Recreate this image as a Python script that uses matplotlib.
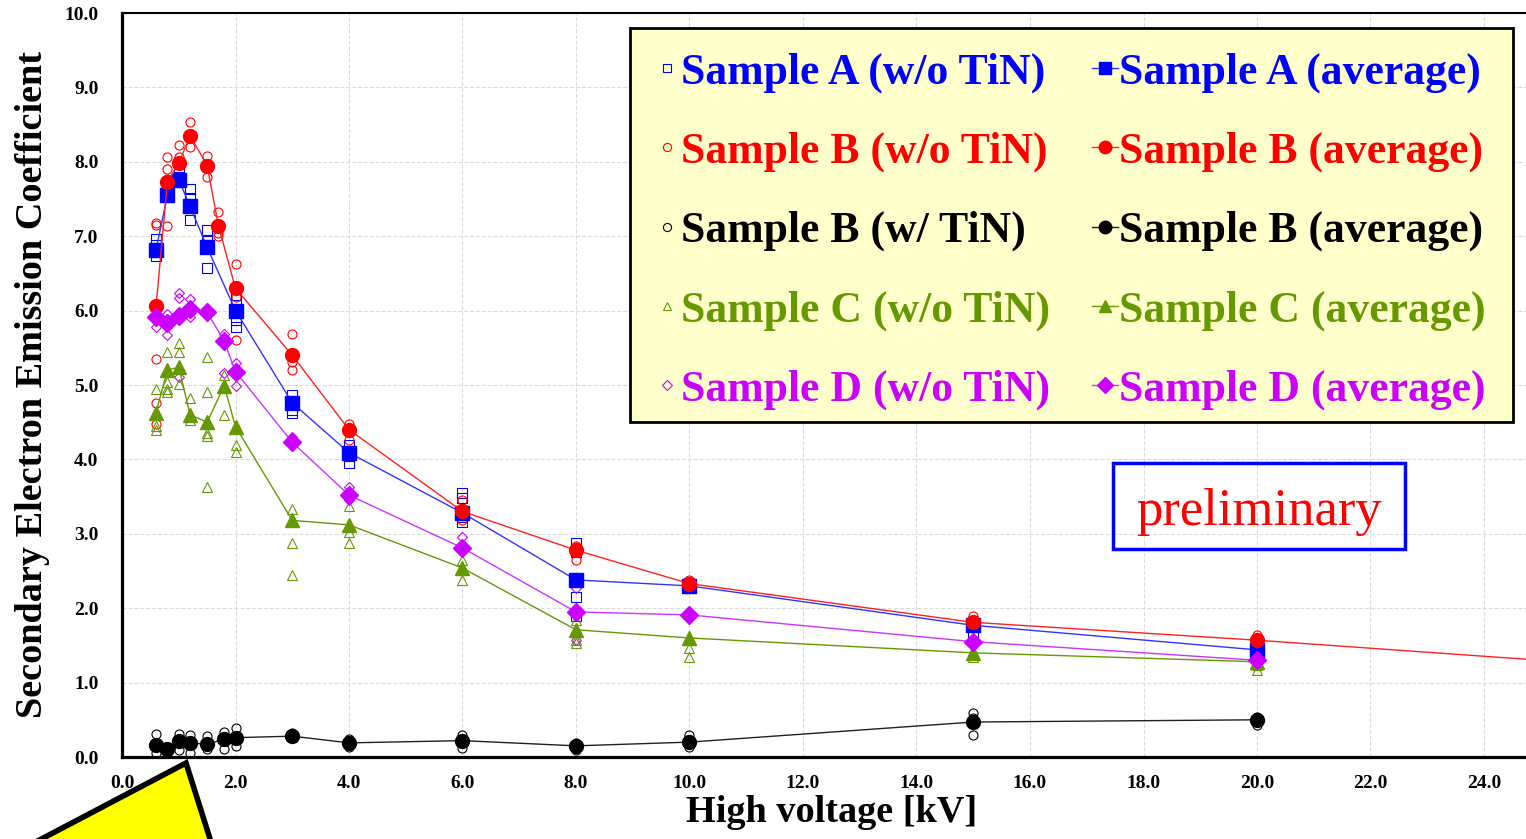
import numpy as np
import matplotlib
matplotlib.use('Agg')
from matplotlib import pyplot as plt
from matplotlib.patches import Polygon, Rectangle

plt.rcParams['font.family'] = ['Liberation Serif', 'DejaVu Serif']
plt.rcParams['font.weight'] = 'bold'

## averages
v_a = [0.6, 0.8, 1.0, 1.2, 1.5, 2.0, 3.0, 4.0, 6.0, 8.0, 10.0, 15.0, 20.0]
avg_a = [6.82, 7.55, 7.76, 7.40, 6.85, 6.00, 4.76, 4.09, 3.28, 2.38, 2.30, 1.77, 1.44]

v_b = [0.6, 0.8, 1.0, 1.2, 1.5, 1.7, 2.0, 3.0, 4.0, 6.0, 8.0, 10.0, 15.0, 20.0, 30.0]
avg_b = [6.06, 7.73, 7.98, 8.35, 7.95, 7.14, 6.30, 5.40, 4.40, 3.30, 2.78, 2.33, 1.81, 1.57, 1.03]

v_bt = [0.6, 0.8, 1.0, 1.2, 1.5, 1.8, 2.0, 3.0, 4.0, 6.0, 8.0, 10.0, 15.0, 20.0]
avg_bt = [0.16, 0.11, 0.22, 0.19, 0.17, 0.24, 0.26, 0.28, 0.19, 0.22, 0.15, 0.20, 0.47, 0.50]

v_c = [0.6, 0.8, 1.0, 1.2, 1.5, 1.8, 2.0, 3.0, 4.0, 6.0, 8.0, 10.0, 15.0, 20.0]
avg_c = [4.63, 5.20, 5.24, 4.60, 4.50, 4.99, 4.44, 3.18, 3.12, 2.54, 1.71, 1.60, 1.40, 1.28]

v_d = [0.6, 0.8, 1.0, 1.2, 1.5, 1.8, 2.0, 3.0, 4.0, 6.0, 8.0, 10.0, 15.0, 20.0]
avg_d = [5.92, 5.84, 5.93, 6.02, 5.98, 5.59, 5.18, 4.23, 3.52, 2.81, 1.95, 1.91, 1.55, 1.30]

## individual measurements {voltage: values}
meas_a = {0.6: [6.96, 6.88, 6.73], 0.8: [7.62, 7.53], 1.0: [7.85, 7.80],
          1.2: [7.64, 7.51, 7.22], 1.5: [7.09, 6.93, 6.57], 2.0: [6.21, 6.07, 5.87, 5.78],
          3.0: [4.87, 4.66, 4.62], 4.0: [4.19, 4.04, 3.95], 6.0: [3.55, 3.48, 3.23, 3.16],
          8.0: [2.87, 2.76, 2.15, 1.89], 10.0: [2.34, 2.27], 15.0: [1.75, 1.68],
          20.0: [1.48, 1.40]}
meas_b = {0.6: [7.18, 7.15, 5.35, 4.76, 4.48], 0.8: [8.06, 7.90, 7.77, 7.14],
          1.0: [8.23, 8.07], 1.2: [8.53, 8.20], 1.5: [8.08, 7.80], 1.7: [7.32, 7.04, 7.00],
          2.0: [6.63, 6.18, 5.61], 3.0: [5.68, 5.31, 5.20], 4.0: [4.48, 4.26],
          6.0: [3.45, 3.33, 3.19], 8.0: [2.83, 2.65], 10.0: [2.38, 2.30],
          15.0: [1.89, 1.80], 20.0: [1.64, 1.52]}
meas_bt = {0.6: [0.31, 0.05], 0.8: [0.14, 0.05], 1.0: [0.31, 0.10], 1.2: [0.30, 0.05],
           1.5: [0.28, 0.11], 1.8: [0.33, 0.11], 2.0: [0.39, 0.15], 3.0: [0.32, 0.25],
           4.0: [0.24, 0.14], 6.0: [0.30, 0.12], 8.0: [0.19, 0.10], 10.0: [0.30, 0.14],
           15.0: [0.59, 0.52, 0.30], 20.0: [0.54, 0.43]}
meas_c = {0.6: [4.95, 4.45, 4.40], 0.8: [5.45, 5.04, 4.95, 4.91], 1.0: [5.56, 5.45, 5.02],
          1.2: [4.82, 4.53], 1.5: [5.38, 4.91, 4.35, 4.31, 3.63], 1.8: [5.13, 4.60],
          2.0: [4.19, 4.10], 3.0: [3.34, 2.88, 2.45], 4.0: [3.37, 3.03, 2.88],
          6.0: [2.65, 2.38], 8.0: [1.84, 1.57, 1.53], 10.0: [1.47, 1.35],
          15.0: [1.35, 1.42], 20.0: [1.24, 1.17]}
meas_d = {0.6: [6.03, 5.78], 0.8: [5.96, 5.67], 1.0: [6.23, 6.17, 5.11], 1.2: [6.16, 5.92],
          1.8: [5.69, 5.16], 2.0: [5.30, 4.99], 3.0: [4.30], 4.0: [3.63, 3.45],
          6.0: [2.96, 2.78], 8.0: [2.27, 1.57], 10.0: [1.93], 15.0: [1.58],
          20.0: [1.32, 1.26]}

x_ticks = np.arange(0, 25, 2.0)
y_ticks = np.arange(0, 10.5, 1.0)

blue = '#0000ff'
red = '#ff0000'
black = '#000000'
green = '#669900'
purple = '#cc00ff'

W, H = 1526, 839
fig = plt.figure(figsize=(W / 100, H / 100), dpi=100)
ax = fig.add_axes([122 / W, 82 / H, 25 * 56.75 / W, 744 / H])

series = [
    ('Sample A', '(w/o TiN)', meas_a, v_a, avg_a, blue, 's', '#3333ff'),
    ('Sample B', '(w/o TiN)', meas_b, v_b, avg_b, red, 'o', '#ff2020'),
    ('Sample B', '(w/ TiN)', meas_bt, v_bt, avg_bt, black, 'o', '#202020'),
    ('Sample C', '(w/o TiN)', meas_c, v_c, avg_c, green, '^', '#669900'),
    ('Sample D', '(w/o TiN)', meas_d, v_d, avg_d, purple, 'D', '#cc33ff'),
]

open_handles = []
avg_handles = []
for name, tag, meas, vv, avg, col, mk, lcol in series:
    xs = [v for v in meas for _ in meas[v]]
    ys = [y for v in meas for y in meas[v]]
    ms_open = 6.5 if mk != 'D' else 5.5
    h1, = ax.plot(xs, ys, ls='none', marker=mk, ms=ms_open, mfc='none', mec=col,
                  mew=0.8, label=f'{name} {tag}', zorder=3)
    ms_avg = 10 if mk != 'D' else 9
    h2, = ax.plot(vv, avg, '-', color=lcol, lw=1.0, marker=mk, ms=ms_avg, mfc=col,
                  mec=col, label=f'{name} (average)', zorder=4)
    open_handles.append(h1)
    avg_handles.append(h2)

ax.set_xlim(0, 25)
ax.set_ylim(0, 10)
ax.set_xticks(x_ticks)
ax.set_yticks(y_ticks)
ax.set_xticklabels([f'{t:.1f}' for t in x_ticks])
ax.set_yticklabels([f'{t:.1f}' for t in y_ticks])
ax.tick_params(axis='both', length=0, labelsize=14)
ax.tick_params(axis='y', pad=17)
ax.tick_params(axis='x', pad=13)
ax.grid(True, color='#dcdcdc', ls='--', lw=0.8)
ax.set_axisbelow(True)
ax.spines['left'].set_linewidth(2.3)
ax.spines['bottom'].set_linewidth(2.3)
ax.spines['top'].set_linewidth(1.5)
ax.spines['right'].set_visible(False)

ax.set_xlabel('High voltage [kV]', fontsize=27.5, fontweight='bold', labelpad=2)
ax.set_ylabel('Secondary Electron Emission Coefficient', fontsize=27.5,
              fontweight='bold', labelpad=10)

# legend box drawn separately so its size matches the original
ax.add_patch(Rectangle((630 / W, 1 - 422 / H), 883 / W, 394 / H, facecolor='#ffffcc',
                       edgecolor='black', lw=2.0, transform=fig.transFigure,
                       clip_on=False, zorder=4.5))

handles = open_handles + avg_handles
leg = ax.legend(handles=handles, ncol=2, loc='upper left',
                bbox_to_anchor=(630 / W, 1 - 28 / H), bbox_transform=fig.transFigure,
                prop={'family': 'Liberation Serif', 'weight': 'bold', 'size': 31.5},
                frameon=False, handlelength=0.6, handletextpad=0.02,
                columnspacing=0.96, labelspacing=0.89, borderpad=0.55,
                borderaxespad=0, markerscale=0.9)
cols = [s[5] for s in series] * 2
for t, c in zip(leg.get_texts(), cols):
    t.set_color(c)

# preliminary box
fig.text(1259 / W, 1 - 512 / H, 'preliminary', fontsize=38, fontweight='normal',
         color=red, ha='center', va='center')
fig.add_artist(Rectangle((1113 / W, 1 - 549 / H), 292 / W, 86 / H, fill=False,
                         edgecolor='#0000ff', lw=2.5, transform=fig.transFigure))

# yellow callout corner
pts = [(30, 845), (186, 763), (212, 845)]
fig.add_artist(Polygon([(x / W, 1 - y / H) for x, y in pts], closed=True,
                       facecolor='#ffff00', edgecolor='black', lw=4,
                       transform=fig.transFigure, clip_on=False))

fig.savefig('out.png', dpi=100)
